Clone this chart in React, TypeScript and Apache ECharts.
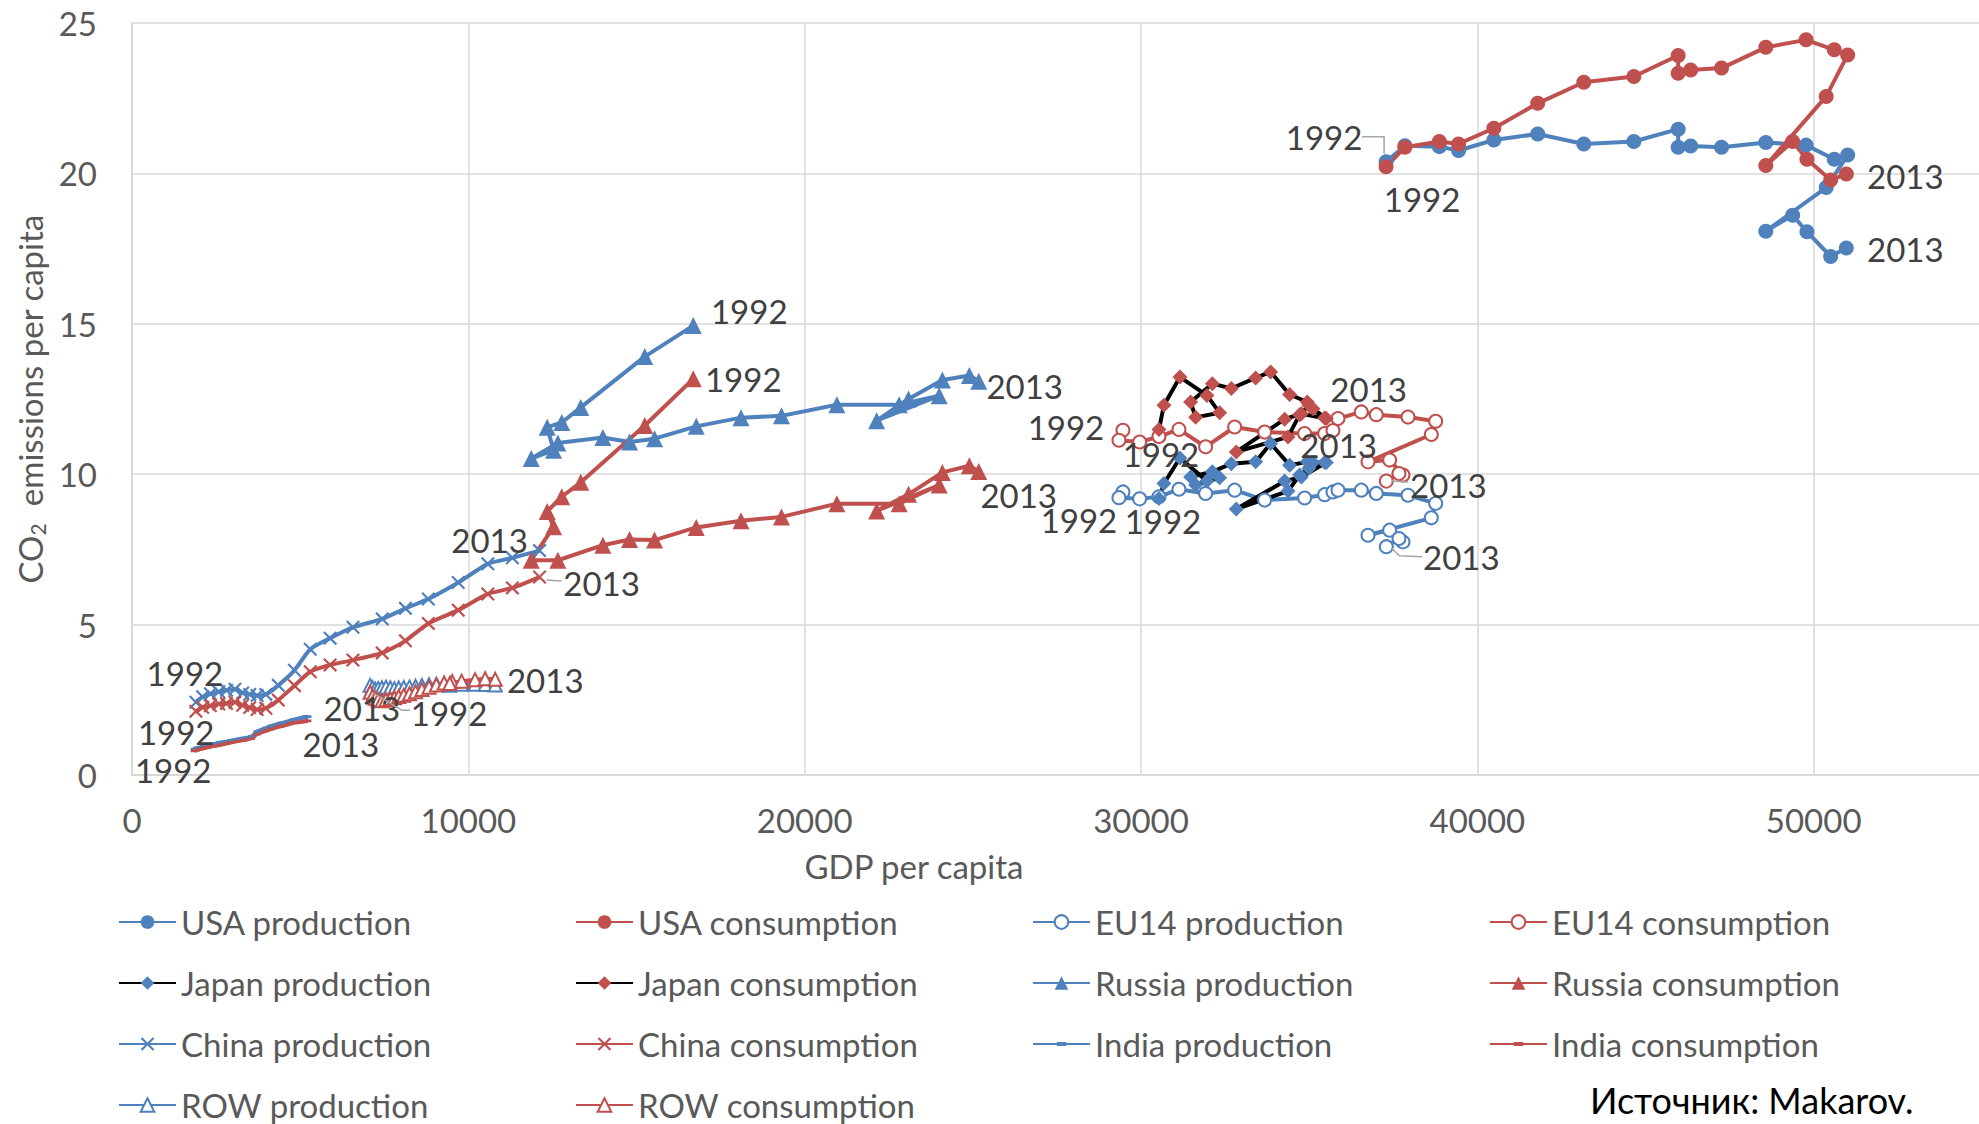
import React, { useEffect, useRef } from 'react';
import * as echarts from 'echarts';

const FONT = 'Lato, "Open Sans", "Noto Sans", sans-serif';
const BLUE = '#4F81BD';
const RED = '#C0504D';
const BLACK = '#000000';
const LABEL_COLOR = '#404040';
const AXIS_TEXT = '#595959';
const GRID_COLOR = '#d9d9d9';

// ---- data (GDP per capita, CO2 per capita), 1992..2013 ----
const usaGdp = [37287, 37846, 38870, 39441, 40492, 41795, 43165, 44654, 45971, 45971, 46343, 47261, 48577, 49774, 50612, 51011, 50372, 48577, 49375, 49800, 50505, 50971];
const usaProduction = [20.39, 20.92, 20.89, 20.76, 21.11, 21.31, 20.98, 21.06, 21.47, 20.87, 20.91, 20.87, 21.03, 20.94, 20.47, 20.61, 19.53, 18.08, 18.61, 18.06, 17.24, 17.52];
const usaConsumption = [20.22, 20.87, 21.06, 20.98, 21.5, 22.33, 23.03, 23.22, 23.92, 23.33, 23.44, 23.5, 24.19, 24.44, 24.11, 23.94, 22.56, 20.26, 21.06, 20.47, 19.78, 19.98];

const eu14Gdp = [29463, 29344, 29959, 30534, 31128, 31921, 32784, 33676, 34865, 35460, 35708, 35857, 36550, 36996, 37938, 38761, 38632, 36749, 37393, 37789, 37670, 37294];
const eu14Production = [9.41, 9.22, 9.18, 9.25, 9.5, 9.36, 9.47, 9.14, 9.21, 9.32, 9.41, 9.47, 9.47, 9.36, 9.3, 9.03, 8.55, 7.97, 8.14, 7.75, 7.86, 7.59];
const eu14Consumption = [11.46, 11.13, 11.07, 11.25, 11.49, 10.91, 11.57, 11.4, 11.35, 11.35, 11.45, 11.85, 12.07, 11.98, 11.9, 11.76, 11.32, 10.41, 10.47, 9.97, 10.02, 9.77];

const japanGdp = [30534, 30682, 31158, 31961, 32338, 31624, 31475, 32120, 32685, 33408, 33854, 34419, 34944, 35113, 35510, 34766, 34270, 32833, 34370, 34717, 34994, 35460];
const japanProduction = [9.19, 9.69, 10.54, 9.77, 9.88, 9.64, 9.91, 10.08, 10.35, 10.41, 11.02, 10.3, 10.41, 10.39, 10.39, 9.91, 9.77, 8.84, 9.44, 9.97, 10.2, 10.39];
const japanConsumption = [11.49, 12.29, 13.23, 12.62, 12.04, 11.89, 12.4, 13.01, 12.85, 13.2, 13.4, 12.65, 12.4, 12.18, 11.85, 12.01, 11.83, 10.74, 11.24, 11.98, 12.29, 11.87];

const russiaGdp = [16687, 15246, 13343, 12777, 12345, 12534, 11870, 12663, 14001, 14794, 15537, 16776, 18107, 19311, 20957, 22809, 24000, 22140, 23087, 24095, 24898, 25175];
const russiaProduction = [14.94, 13.91, 12.22, 11.72, 11.56, 10.8, 10.52, 11.04, 11.22, 11.07, 11.18, 11.59, 11.88, 11.94, 12.31, 12.31, 12.61, 11.78, 12.5, 13.13, 13.28, 13.09];
const russiaConsumption = [13.17, 11.62, 9.73, 9.25, 8.76, 8.25, 7.14, 7.14, 7.64, 7.83, 7.81, 8.23, 8.45, 8.58, 9.02, 9.02, 9.64, 8.78, 9.33, 10.06, 10.28, 10.09];

const chinaGdp = [1900, 2100, 2330, 2580, 2810, 3060, 3290, 3500, 3720, 3980, 4350, 4830, 5300, 5890, 6570, 7440, 8130, 8810, 9700, 10580, 11310, 12117];
const chinaProduction = [2.42, 2.6, 2.7, 2.77, 2.82, 2.85, 2.73, 2.68, 2.64, 2.68, 2.98, 3.48, 4.18, 4.55, 4.91, 5.19, 5.54, 5.85, 6.4, 7.02, 7.22, 7.46];
const chinaConsumption = [2.12, 2.25, 2.3, 2.36, 2.38, 2.42, 2.32, 2.24, 2.18, 2.22, 2.49, 2.97, 3.43, 3.66, 3.82, 4.06, 4.46, 5.04, 5.48, 6.02, 6.22, 6.58];

const indiaGdp = [1850, 1920, 2010, 2120, 2240, 2330, 2440, 2600, 2700, 2820, 2930, 3120, 3330, 3560, 3720, 3980, 4120, 4430, 4800, 5000, 5150, 5230];
const indiaProduction = [0.86, 0.89, 0.92, 0.95, 0.98, 1.0, 1.03, 1.07, 1.09, 1.11, 1.14, 1.18, 1.22, 1.28, 1.45, 1.56, 1.62, 1.72, 1.84, 1.89, 1.93, 1.94];
const indiaConsumption = [0.8, 0.83, 0.86, 0.89, 0.92, 0.94, 0.97, 1.0, 1.02, 1.05, 1.08, 1.12, 1.16, 1.22, 1.36, 1.47, 1.53, 1.62, 1.73, 1.76, 1.79, 1.8];

const rowGdp = [7080, 7150, 7230, 7320, 7430, 7550, 7680, 7800, 7930, 8080, 8250, 8430, 8620, 8830, 9050, 9280, 9520, 9450, 9800, 10200, 10500, 10800];
const rowProduction = [2.98, 2.9, 2.86, 2.88, 2.9, 2.92, 2.9, 2.87, 2.89, 2.91, 2.93, 2.95, 2.98, 3.0, 3.02, 3.03, 3.04, 2.98, 3.02, 3.02, 3.01, 2.99];
const rowConsumption = [2.75, 2.62, 2.55, 2.5, 2.47, 2.5, 2.54, 2.57, 2.61, 2.65, 2.7, 2.77, 2.84, 2.92, 2.99, 3.06, 3.11, 3.04, 3.12, 3.17, 3.2, 3.18];

const xTicks = { min: 0, max: 60000, interval: 10000 };
const yTicks = { min: 0, max: 25, interval: 5 };

const legendColumns = [
  ['USA production', 'Japan production', 'China production', 'ROW production'],
  ['USA consumption', 'Japan consumption', 'China consumption', 'ROW consumption'],
  ['EU14 production', 'Russia production', 'India production'],
  ['EU14 consumption', 'Russia consumption', 'India consumption'],
];

const X_MARK = 'path://M0,1.1L1.1,0L5,3.9L8.9,0L10,1.1L6.1,5L10,8.9L8.9,10L5,6.1L1.1,10L0,8.9L3.9,5Z';
const DASH_MARK = 'path://M0,5L0.1,5L0,5.1Z M10,5L9.9,5L10,5.1Z M5,0L5.1,0L5,0.1Z M5,10L5.1,10L5,9.9Z M1.5,3.6L8.5,3.6L8.5,6.4L1.5,6.4Z';

type Def = {
  name: string; gdp: number[]; co2: number[]; marker: string; line: string;
  symbol: string; size: number; empty?: boolean; smooth?: number;
};

const defs: Def[] = [
  { name: 'USA production', gdp: usaGdp, co2: usaProduction, marker: BLUE, line: BLUE, symbol: 'circle', size: 15 },
  { name: 'USA consumption', gdp: usaGdp, co2: usaConsumption, marker: RED, line: RED, symbol: 'circle', size: 15 },
  { name: 'EU14 production', gdp: eu14Gdp, co2: eu14Production, marker: BLUE, line: BLUE, symbol: 'emptyCircle', size: 13, empty: true },
  { name: 'EU14 consumption', gdp: eu14Gdp, co2: eu14Consumption, marker: RED, line: RED, symbol: 'emptyCircle', size: 13, empty: true },
  { name: 'Japan production', gdp: japanGdp, co2: japanProduction, marker: BLUE, line: BLACK, symbol: 'diamond', size: 15 },
  { name: 'Japan consumption', gdp: japanGdp, co2: japanConsumption, marker: RED, line: BLACK, symbol: 'diamond', size: 15 },
  { name: 'Russia production', gdp: russiaGdp, co2: russiaProduction, marker: BLUE, line: BLUE, symbol: 'triangle', size: 17 },
  { name: 'Russia consumption', gdp: russiaGdp, co2: russiaConsumption, marker: RED, line: RED, symbol: 'triangle', size: 17 },
  { name: 'China production', gdp: chinaGdp, co2: chinaProduction, marker: BLUE, line: BLUE, symbol: X_MARK, size: 14, smooth: 0.2 },
  { name: 'China consumption', gdp: chinaGdp, co2: chinaConsumption, marker: RED, line: RED, symbol: X_MARK, size: 14, smooth: 0.2 },
  { name: 'India production', gdp: indiaGdp, co2: indiaProduction, marker: BLUE, line: BLUE, symbol: DASH_MARK, size: 10, smooth: 0.2 },
  { name: 'India consumption', gdp: indiaGdp, co2: indiaConsumption, marker: RED, line: RED, symbol: DASH_MARK, size: 10, smooth: 0.2 },
  { name: 'ROW production', gdp: rowGdp, co2: rowProduction, marker: BLUE, line: BLUE, symbol: 'emptyTriangle', size: 13, empty: true },
  { name: 'ROW consumption', gdp: rowGdp, co2: rowConsumption, marker: RED, line: RED, symbol: 'emptyTriangle', size: 13, empty: true },
];

type PointLabel = { series: string; index: number; text: string; dx: number; dy: number; leader?: number[][] };

const pointLabels: PointLabel[] = [
  { series: 'USA production', index: 0, text: '1992', dx: -62, dy: -25, leader: [[-24, -25], [-2, -25], [-2, -8]] },
  { series: 'USA production', index: 21, text: '2013', dx: 59, dy: 1 },
  { series: 'USA consumption', index: 0, text: '1992', dx: 36, dy: 32 },
  { series: 'USA consumption', index: 21, text: '2013', dx: 59, dy: 2 },
  { series: 'Russia production', index: 0, text: '1992', dx: 56, dy: -15 },
  { series: 'Russia production', index: 21, text: '2013', dx: 46, dy: 5 },
  { series: 'Russia consumption', index: 0, text: '1992', dx: 50, dy: 0 },
  { series: 'Russia consumption', index: 21, text: '2013', dx: 40, dy: 24 },
  { series: 'China production', index: 0, text: '1992', dx: -11, dy: -29 },
  { series: 'China production', index: 21, text: '2013', dx: -50, dy: -11 },
  { series: 'China consumption', index: 21, text: '2013', dx: 62, dy: 6, leader: [[7, 3], [22, 4]] },
  { series: 'India production', index: 0, text: '1992', dx: -18, dy: -17 },
  { series: 'India production', index: 21, text: '2013', dx: 54, dy: -9 },
  { series: 'India consumption', index: 0, text: '1992', dx: -21, dy: 19 },
  { series: 'India consumption', index: 21, text: '2013', dx: 33, dy: 23 },
  { series: 'ROW consumption', index: 0, text: '1992', dx: 79, dy: 21, leader: [[2, 0], [32, 18], [40, 18]] },
  { series: 'ROW production', index: 21, text: '2013', dx: 50, dy: -5 },
  { series: 'EU14 consumption', index: 0, text: '1992', dx: -57, dy: -3 },
  { series: 'EU14 consumption', index: 21, text: '2013', dx: 62, dy: 4, leader: [[5, 0], [22, 1]] },
  { series: 'EU14 production', index: 0, text: '1992', dx: -44, dy: 28 },
  { series: 'EU14 production', index: 21, text: '2013', dx: 75, dy: 10, leader: [[5, 1], [13, 9], [36, 10]] },
  { series: 'Japan consumption', index: 0, text: '1992', dx: 2, dy: 25 },
  { series: 'Japan consumption', index: 21, text: '2013', dx: 44, dy: -29 },
  { series: 'Japan production', index: 0, text: '1992', dx: 4, dy: 22 },
  { series: 'Japan production', index: 21, text: '2013', dx: 14, dy: -17 },
];

function buildSeries() {
  return defs.map((d) => ({
    type: 'line',
    name: d.name,
    symbol: d.symbol,
    symbolSize: d.size,
    smooth: d.smooth || false,
    clip: false,
    lineStyle: { color: d.line, width: 4 },
    itemStyle: d.empty
      ? { color: d.marker, borderColor: d.marker, borderWidth: 2.2 }
      : { color: d.marker, borderWidth: 0 },
    label: { show: false },
    emphasis: { disabled: true },
    data: d.gdp.map((x, i) => {
      const lab = pointLabels.find((l) => l.series === d.name && l.index === i);
      if (!lab) return [x, d.co2[i]];
      return {
        value: [x, d.co2[i]],
        label: {
          show: true,
          formatter: lab.text,
          position: 'inside',
          offset: [lab.dx, lab.dy],
          fontSize: 33,
          fontFamily: FONT,
          color: LABEL_COLOR,
          textBorderWidth: 0,
        },
      };
    }),
  }));
}

const legendLefts = [118, 575, 1032, 1489];

export default function App() {
  const ref = useRef<HTMLDivElement>(null);
  useEffect(() => {
    const chart = echarts.init(ref.current as HTMLDivElement, null, { renderer: 'svg' });
    chart.setOption({
      animation: false,
      backgroundColor: '#ffffff',
      grid: { left: 132, top: 23, width: 2018, height: 752, outerBoundsMode: 'none', containLabel: false },
      xAxis: {
        type: 'value',
        ...xTicks,
        axisLine: { show: true, lineStyle: { color: GRID_COLOR, width: 2 } },
        axisTick: { show: false },
        splitLine: { show: true, lineStyle: { color: GRID_COLOR, width: 1.5 } },
        axisLabel: {
          fontSize: 33, fontFamily: FONT, color: AXIS_TEXT, margin: 28, showMaxLabel: false,
          formatter: (v: number) => String(v),
        },
      },
      yAxis: {
        type: 'value',
        ...yTicks,
        axisLine: { show: true, lineStyle: { color: GRID_COLOR, width: 2 } },
        axisTick: { show: false },
        splitLine: { show: true, lineStyle: { color: GRID_COLOR, width: 1.5 } },
        axisLabel: { fontSize: 33, fontFamily: FONT, color: AXIS_TEXT, margin: 35 },
        name: '{a|CO}{s|2}{a|  emissions per capita}',
        nameLocation: 'middle',
        nameRotate: 90,
        nameGap: 84,
        nameTextStyle: {
          color: AXIS_TEXT,
          fontFamily: FONT,
          fontSize: 33,
          rich: {
            a: { fontSize: 33, fontFamily: FONT, color: AXIS_TEXT },
            s: { fontSize: 21, fontFamily: FONT, color: AXIS_TEXT, padding: [14, 0, 0, 0] },
          },
        },
      },
      legend: legendColumns.map((col, ci) => ({
        data: col,
        orient: 'vertical',
        left: legendLefts[ci],
        top: 905,
        height: 219,
        itemWidth: 57,
        itemHeight: 17,
        itemGap: 27,
        padding: 0,
        selectedMode: false,
        textStyle: { fontSize: 33, fontFamily: FONT, color: AXIS_TEXT, lineHeight: 34 },
      })),
      series: buildSeries(),
    });

    const leaders = pointLabels
      .filter((l) => l.leader)
      .map((l) => {
        const si = defs.findIndex((d) => d.name === l.series);
        const d = defs[si];
        const p = chart.convertToPixel({ seriesIndex: si }, [d.gdp[l.index], d.co2[l.index]]) as number[];
        return {
          type: 'polyline',
          silent: true,
          z: 50,
          shape: { points: (l.leader as number[][]).map(([a, b]) => [p[0] + a, p[1] + b]) },
          style: { stroke: '#a6a6a6', lineWidth: 1.5, fill: null },
        };
      });

    chart.setOption({
      graphic: [
        {
          type: 'text',
          x: 914,
          y: 866,
          silent: true,
          style: { text: 'GDP per capita', fontSize: 33, fontFamily: FONT, fill: AXIS_TEXT, align: 'center', verticalAlign: 'middle' },
        },
        {
          type: 'text',
          x: 1590,
          y: 1100,
          silent: true,
          style: { text: 'Источник: Makarov.', fontSize: 36, fontFamily: FONT, fill: '#000000', align: 'left', verticalAlign: 'middle' },
        },
        ...leaders,
      ],
    });
    return () => chart.dispose();
  }, []);
  return (
    <div style={{ position: 'fixed', left: 0, top: 0, width: 1979, height: 1124, overflow: 'hidden', background: '#ffffff' }}>
      <div ref={ref} style={{ width: 2300, height: 1124 }} />
    </div>
  );
}
